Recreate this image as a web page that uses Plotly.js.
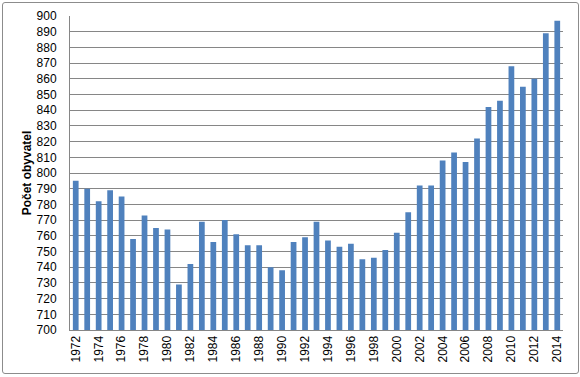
<!DOCTYPE html>
<html>
<head>
<meta charset="utf-8">
<script src="https://cdn.plot.ly/plotly-3.0.1.min.js"></script>
<style>
html,body{margin:0;padding:0;background:#fff;}
#wrap{position:relative;width:580px;height:377px;}
#chart{width:580px;height:377px;}
#frame{position:absolute;left:2px;top:2px;width:575px;height:370px;border:1px solid #8c8c8c;border-radius:3px;pointer-events:none;}
</style>
</head>
<body>
<div id="wrap"><div id="chart"></div><div id="frame"></div></div>
<script>
const years = ["1972","1973","1974","1975","1976","1977","1978","1979","1980","1981","1982","1983","1984","1985","1986","1987","1988","1989","1990","1991","1992","1993","1994","1995","1996","1997","1998","1999","2000","2001","2002","2003","2004","2005","2006","2007","2008","2009","2010","2011","2012","2013","2014"];
const population = [795,790,782,789,785,758,773,765,764,729,742,769,756,770,761,754,754,740,738,756,759,769,757,753,755,745,746,751,762,775,792,792,808,813,807,822,842,846,868,855,860,889,897];
const yTitle = "Počet obyvatel";
const tickYears = years.filter((y, i) => i % 2 === 0);

const trace = {
  type: 'bar',
  x: years,
  y: population,
  marker: {color: '#4F81BD'},
  hoverinfo: 'x+y'
};

const layout = {
  width: 580, height: 377,
  margin: {l: 70, r: 17, t: 16, b: 47},
  paper_bgcolor: '#ffffff',
  plot_bgcolor: '#ffffff',
  bargap: 0.5,
  showlegend: false,
  font: {family: 'Liberation Sans, Arial, sans-serif', size: 12, color: '#000'},
  xaxis: {
    type: 'category',
    tickmode: 'array',
    tickvals: tickYears,
    ticktext: tickYears,
    tickangle: -90,
    tickfont: {size: 12},
    showgrid: false,
    showline: true,
    linecolor: '#868686',
    linewidth: 1,
    ticks: '',
    fixedrange: true
  },
  yaxis: {
    range: [700, 900],
    dtick: 10,
    tick0: 700,
    showgrid: true,
    gridcolor: '#868686',
    gridwidth: 1,
    zeroline: false,
    showline: true,
    linecolor: '#868686',
    linewidth: 1,
    ticks: '',
    ticklabelstandoff: 10,
    tickfont: {size: 12},
    title: {text: '<b>' + yTitle + '</b>', font: {size: 12}, standoff: 2},
    fixedrange: true
  }
};

Plotly.newPlot('chart', [trace], layout, {displayModeBar: false, staticPlot: true});
</script>
</body>
</html>
